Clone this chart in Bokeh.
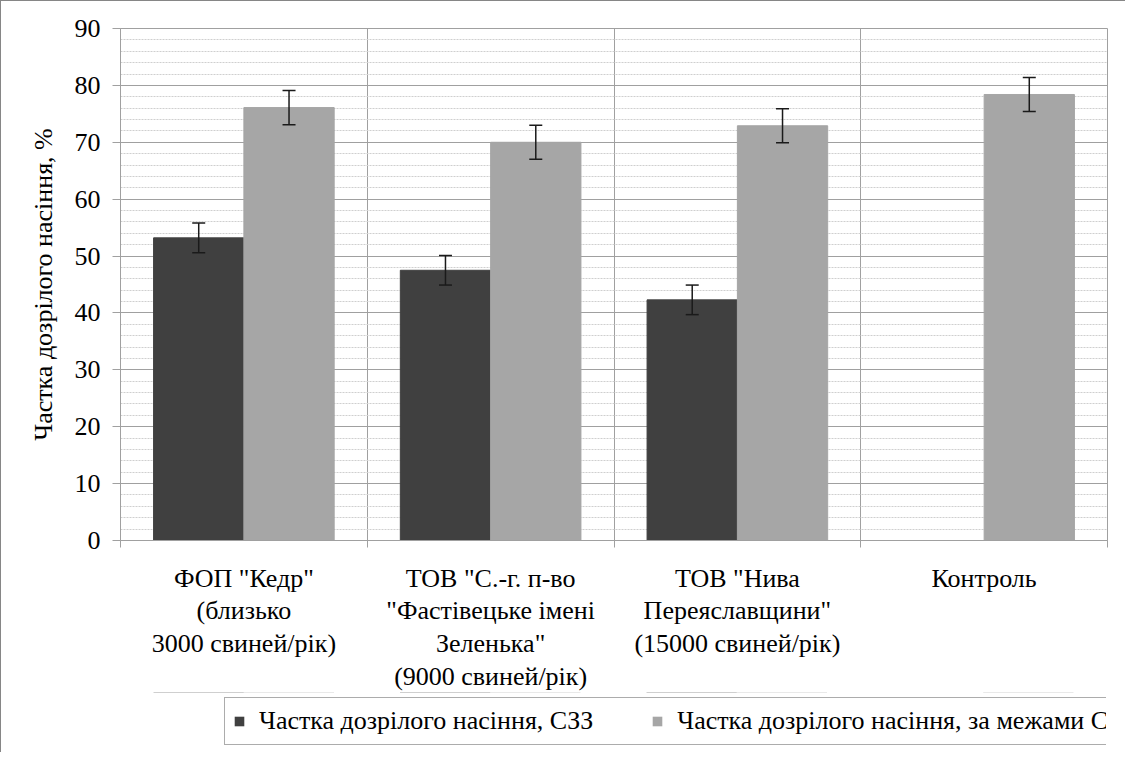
from bokeh.plotting import figure
from bokeh.layouts import column
from bokeh.models import (ColumnDataSource, FixedTicker, SingleIntervalTicker, Range1d,
                          Whisker, TeeHead, Legend, LegendItem)
from bokeh.embed import file_html
from bokeh.resources import INLINE

# ---- data ----
categories = ['ФОП "Кедр"\n(близько\n3000 свиней/рік)',
              'ТОВ "С.-г. п-во\n"Фастівецьке імені\nЗеленька"\n(9000 свиней/рік)',
              'ТОВ "Нива\nПереяславщини"\n(15000 свиней/рік)',
              'Контроль']
series_names = ["Частка дозрілого насіння, СЗЗ",
                "Частка дозрілого насіння, за межами СЗЗ"]
szz_values = [53.2, 47.5, 42.3]
szz_errors = [2.6, 2.6, 2.6]
outside_values = [76.1, 70.0, 72.9, 78.4]
outside_errors = [3.0, 3.0, 3.0, 3.0]

FONT = "Liberation Serif"
FS = "26px"
DARK = "#404040"
LIGHT = "#a6a6a6"
GRID = "#a0a0a0"

n = len(categories)
bar_w = 0.366
off = 0.183

src1 = ColumnDataSource(dict(
    x=[i + 0.5 - off for i in range(len(szz_values))],
    top=szz_values,
    upper=[v + e for v, e in zip(szz_values, szz_errors)],
    lower=[v - e for v, e in zip(szz_values, szz_errors)],
))
src2 = ColumnDataSource(dict(
    x=[i + 0.5 + off for i in range(len(outside_values))],
    top=outside_values,
    upper=[v + e for v, e in zip(outside_values, outside_errors)],
    lower=[v - e for v, e in zip(outside_values, outside_errors)],
))

p = figure(frame_width=986, frame_height=511, output_backend="svg", toolbar_location=None,
           x_range=Range1d(0, n), y_range=Range1d(0, 90),
           min_border_left=119, min_border_top=27, min_border_right=19,
           min_border_bottom=0)
p.styles = {"border-left": "1px solid #868686", "border-top": "1px solid #868686"}
p.outline_line_color = GRID
p.background_fill_color = "white"
p.border_fill_color = "white"

r1 = p.vbar(x="x", top="top", width=bar_w, source=src1, fill_color=DARK, line_color=DARK)
r2 = p.vbar(x="x", top="top", width=bar_w, source=src2, fill_color=LIGHT, line_color=LIGHT)

for s in (src1, src2):
    w = Whisker(base="x", upper="upper", lower="lower", source=s, level="annotation",
                line_color="#1a1a1a", line_width=1.5,
                upper_head=TeeHead(size=13, line_color="#1a1a1a", line_width=1.5),
                lower_head=TeeHead(size=13, line_color="#1a1a1a", line_width=1.5))
    p.add_layout(w)

# y axis
p.yaxis.ticker = SingleIntervalTicker(interval=10, num_minor_ticks=5)
p.yaxis.axis_line_color = GRID
p.yaxis.major_tick_line_color = GRID
p.yaxis.major_tick_out = 8
p.yaxis.major_tick_in = 0
p.yaxis.minor_tick_out = 0
p.yaxis.minor_tick_in = 0
p.yaxis.major_label_standoff = 12
p.yaxis.major_label_text_font = FONT
p.yaxis.major_label_text_font_size = FS
p.yaxis.major_label_text_color = "black"
p.yaxis.axis_label = "Частка дозрілого насіння, %"
p.yaxis.axis_label_text_font = FONT
p.yaxis.axis_label_text_font_size = FS
p.yaxis.axis_label_text_font_style = "normal"
p.yaxis.axis_label_text_color = "black"
p.yaxis.axis_label_standoff = 14

# x axis
p.xaxis.ticker = FixedTicker(ticks=[i + 0.5 for i in range(n)],
                             minor_ticks=list(range(n + 1)))
p.xaxis.major_label_overrides = {i + 0.5: c for i, c in enumerate(categories)}
p.xaxis.axis_line_color = GRID
p.xaxis.major_tick_out = 0
p.xaxis.major_tick_in = 0
p.xaxis.minor_tick_line_color = GRID
p.xaxis.minor_tick_out = 7
p.xaxis.minor_tick_in = 0
p.xaxis.major_label_standoff = 16
p.xaxis.major_label_text_font = FONT
p.xaxis.major_label_text_font_size = FS
p.xaxis.major_label_text_color = "black"
p.xaxis.major_label_text_line_height = 1.13

# grids
p.ygrid.grid_line_color = GRID
p.ygrid.minor_grid_line_color = "#cfcfcf"
p.ygrid.minor_grid_line_dash = "2 1"
p.xgrid.ticker = FixedTicker(ticks=list(range(1, n)))
p.xgrid.grid_line_color = GRID

# legend in its own strip below the chart (series proxies lie outside its view)
p2 = figure(width=1124, height=60, output_backend="svg", toolbar_location=None,
            x_range=Range1d(0, n), y_range=Range1d(-2, -1),
            x_axis_location=None, y_axis_location=None,
            min_border_left=0, min_border_top=0, min_border_right=0, min_border_bottom=0)
p2.styles = {"border-left": "1px solid #868686"}
p2.outline_line_color = None
p2.grid.visible = False
l1 = p2.vbar(x="x", top="top", width=bar_w, source=src1, fill_color=DARK, line_color=None)
l2 = p2.vbar(x="x", top="top", width=bar_w, source=src2, fill_color=LIGHT, line_color=None)
legend = Legend(items=[LegendItem(label=series_names[0], renderers=[l1]),
                       LegendItem(label=series_names[1], renderers=[l2])],
                orientation="horizontal", location=(104, 7),
                label_text_font=FONT, label_text_font_size=FS,
                label_text_color="black",
                glyph_width=12, glyph_height=12, label_standoff=14,
                spacing=58, padding=8, margin=0,
                border_line_color="#595959", border_line_width=1.5,
                background_fill_color="white")
p2.add_layout(legend)

layout = column(p, p2, spacing=0)
open("out.html", "w").write(file_html(layout, INLINE))
